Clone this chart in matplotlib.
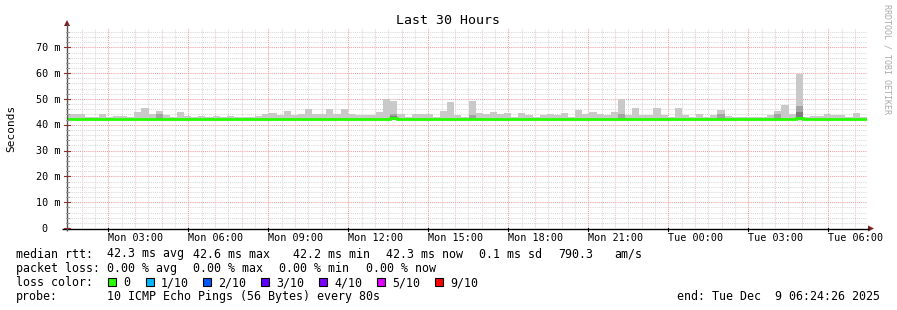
import numpy as np
import matplotlib
matplotlib.use("Agg")
import matplotlib.pyplot as plt
from matplotlib.patches import Rectangle, Polygon

# ---------------- data ----------------
bin_hours = 960 / 3600.0          # consolidated step (16 min)
first_bin_start = -0.141          # hours relative to graph start (Mon 00:24:26)
span_hours = 30.0

smoke_max = [44.0, 44.0, 44.2, 43.0, 43.0, 44.0, 43.0, 43.4, 43.4, 43.0,
             44.9, 46.4, 44.0, 45.4, 43.7, 43.0, 44.9, 43.4, 43.0, 43.4,
             43.0, 43.4, 43.0, 43.4, 43.0, 43.0, 43.0, 43.4, 44.0, 44.5,
             43.7, 45.4, 43.7, 44.0, 46.0, 44.3, 44.3, 46.0, 44.3, 46.0,
             44.3, 43.7, 43.7, 43.7, 44.9, 49.9, 49.1, 44.1, 43.0, 44.0,
             44.0, 44.0, 43.0, 45.4, 48.7, 43.7, 43.0, 49.2, 44.6, 44.0,
             45.0, 44.1, 44.6, 43.0, 44.6, 43.7, 43.0, 43.7, 44.1, 43.7,
             44.6, 43.0, 45.6, 44.3, 45.0, 44.3, 43.7, 45.0, 49.9, 43.7,
             46.5, 43.7, 43.7, 46.5, 43.7, 43.0, 46.5, 43.7, 43.0, 44.1,
             43.0, 43.7, 45.6, 43.4, 43.0, 43.0, 43.0, 43.0, 43.0, 43.7,
             45.2, 47.6, 44.1, 59.8, 43.0, 43.3, 43.3, 44.1, 43.7, 43.7,
             43.0, 44.6, 43.0]
smoke_mid = [42.0] * len(smoke_max)
for i, v in {13: 44.0, 46: 44.3, 57: 43.7, 78: 44.0, 92: 44.3, 100: 44.1, 103: 47.2}.items():
    smoke_mid[i] = v
smoke_core = [42.0] * len(smoke_max)
for i, v in {46: 43.4, 103: 45.0}.items():
    smoke_core[i] = v
smoke_min = [41.7] * len(smoke_max)
median = [42.3] * len(smoke_max)
for i, v in {13: 42.4, 46: 42.5, 57: 42.4, 88: 42.2, 95: 42.2, 103: 42.6}.items():
    median[i] = v

y_ticks = [0, 10, 20, 30, 40, 50, 60, 70]
y_labels = ["0  ", "10 m", "20 m", "30 m", "40 m", "50 m", "60 m", "70 m"]
x_labels = ["Mon 03:00", "Mon 06:00", "Mon 09:00", "Mon 12:00", "Mon 15:00",
            "Mon 18:00", "Mon 21:00", "Tue 00:00", "Tue 03:00", "Tue 06:00"]
first_label_hour = 2.58

loss_labels = ["0", "1/10", "2/10", "3/10", "4/10", "5/10", "9/10"]
loss_colors = ["#26ff00", "#00b8ff", "#0059ff", "#5e00ff", "#7e00ff", "#dd00ff", "#ff0000"]

# ---------------- figure ----------------
W, H = 897, 310
fig = plt.figure(figsize=(W / 100, H / 100), dpi=100)
fig.patch.set_facecolor("white")
MONO = "DejaVu Sans Mono"

L, R, T, B = 67, 867, 28, 228
YMAX = 77.5
ax = fig.add_axes([L / W, (H - B) / H, (R - L) / W, (B - T) / H])
ax.set_xlim(0, span_hours)
ax.set_ylim(0, YMAX)
for s in ax.spines.values():
    s.set_visible(False)
ax.set_xticks([])
ax.set_yticks([])
ax.set_facecolor("white")

# grid
minor_c = "#d9d9d9"
hour_c = "#f3c4c4"
major_c = "#eea0a0"
dash = (0, (1, 1))
for v in np.arange(2, 78, 2):
    if v % 10 == 0:
        continue
    ax.axhline(v, color=minor_c, lw=0.75, ls=dash, zorder=1)
for v in y_ticks[1:]:
    ax.axhline(v, color=major_c, lw=0.75, ls=dash, zorder=1.1)
k = 0
t = 0.55
while t < span_hours:
    if k % 6 == 2:
        c, z = major_c, 1.2
    elif k % 2 == 0:
        c, z = hour_c, 1.1
    else:
        c, z = minor_c, 1.0
    ax.axvline(t, color=c, lw=0.75, ls=dash, zorder=z)
    k += 1
    t += 0.5

# smoke
n = len(smoke_max)
lefts = first_bin_start + bin_hours * np.arange(n)
smin = np.array(smoke_min)
ax.bar(lefts, np.array(smoke_max) - smin, bottom=smin, width=bin_hours, align="edge",
       color="#c9c9c9", linewidth=0, zorder=2)
mid = np.array(smoke_mid)
ax.bar(lefts, np.clip(mid - smin, 0, None), bottom=smin, width=bin_hours, align="edge",
       color="#a3a3a3", linewidth=0, zorder=2.1)
core = np.array(smoke_core)
ax.bar(lefts, np.clip(core - smin, 0, None), bottom=smin, width=bin_hours, align="edge",
       color="#7d7d7d", linewidth=0, zorder=2.2)

# median line
edges = first_bin_start + bin_hours * np.arange(n + 1)
ax.stairs(median, edges, color="#26ff00", lw=2.0, zorder=3, baseline=None)

# ---------------- overlay in pixel coords ----------------
ov = fig.add_axes([0, 0, 1, 1])
ov.set_xlim(0, W)
ov.set_ylim(H, 0)
ov.axis("off")
ov.patch.set_alpha(0)

def px_x(th):
    return L + (R - L) * th / span_hours

def px_y(v):
    return B - (B - T) * v / YMAX

arrow_c = "#7f1f1f"
ov.plot([62, 869], [B + 0.5, B + 0.5], color="black", lw=1.0, solid_capstyle="butt")
ov.plot([L, L], [B + 3, 24], color="#555555", lw=1.0, solid_capstyle="butt")
ov.add_patch(Polygon([[868, B - 2.5], [874, B + 0.5], [868, B + 3.5]], closed=True,
                     color=arrow_c, lw=0))
ov.add_patch(Polygon([[L - 3, 26], [L, 20], [L + 3, 26]], closed=True, color=arrow_c, lw=0))

# y ticks
for v in np.arange(0, 77, 2):
    y = px_y(v)
    if v % 10 == 0:
        ov.plot([L - 3, L + 3], [y, y], color="#8a3030", lw=0.8)
    else:
        ov.plot([L - 1.5, L + 1.5], [y, y], color="#999999", lw=0.7)
for v, lab in zip(y_ticks, y_labels):
    ov.text(60, px_y(v) + 3.6, lab, ha="right", va="baseline", fontsize=7.3,
            family=MONO, color="black")

# x ticks below axis
t = 1.55
while t < span_hours:
    x = px_x(t)
    ov.plot([x, x], [B, B + 3], color="black", lw=0.8)
    t += 3
for i, lab in enumerate(x_labels):
    ov.text(px_x(first_label_hour + 3 * i), 241, lab, ha="center", va="baseline",
            fontsize=7.3, family=MONO, color="black")

ov.text(448, 24.5, "Last 30 Hours", ha="center", va="baseline", fontsize=9.5, family=MONO)
ov.text(11, 128, "Seconds", ha="center", va="center", rotation=90, fontsize=8.0, family=MONO)
ov.text(887, 59, "RRDTOOL / TOBI OETIKER", ha="center", va="center", rotation=-90,
        fontsize=6.0, family=MONO, color="#aaaaaa")

# legend
fs = 8.4
rows = [257.5, 271.7, 286.0, 300.2]
ov.text(16, rows[0], "median rtt:", fontsize=fs, family=MONO, va="baseline")
for x, s in [(107, "42.3 ms avg"), (193, "42.6 ms max"), (293, "42.2 ms min"),
             (386, "42.3 ms now"), (479, "0.1 ms sd"), (558, "790.3"), (614, "am/s")]:
    ov.text(x, rows[0], s, fontsize=fs, family=MONO, va="baseline")
ov.text(16, rows[1], "packet loss:", fontsize=fs, family=MONO, va="baseline")
for x, s in [(107, "0.00 % avg"), (193, "0.00 % max"), (279, "0.00 % min"), (366, "0.00 % now")]:
    ov.text(x, rows[1], s, fontsize=fs, family=MONO, va="baseline")
ov.text(16, rows[2], "loss color:", fontsize=fs, family=MONO, va="baseline")
box_x = [108, 146, 203, 261, 319, 377, 435]
for bx, lab, c in zip(box_x, loss_labels, loss_colors):
    ov.add_patch(Rectangle((bx, rows[2] - 8), 8, 8, facecolor=c, edgecolor="black", lw=0.8))
    ov.text(bx + 15, rows[2], lab, fontsize=fs, family=MONO, va="baseline")
ov.text(16, rows[3], "probe:", fontsize=fs, family=MONO, va="baseline")
ov.text(107, rows[3], "10 ICMP Echo Pings (56 Bytes) every 80s", fontsize=fs, family=MONO,
        va="baseline")
ov.text(880, rows[3], "end: Tue Dec  9 06:24:26 2025", fontsize=fs, family=MONO,
        va="baseline", ha="right")

fig.savefig("out.png", dpi=100)
